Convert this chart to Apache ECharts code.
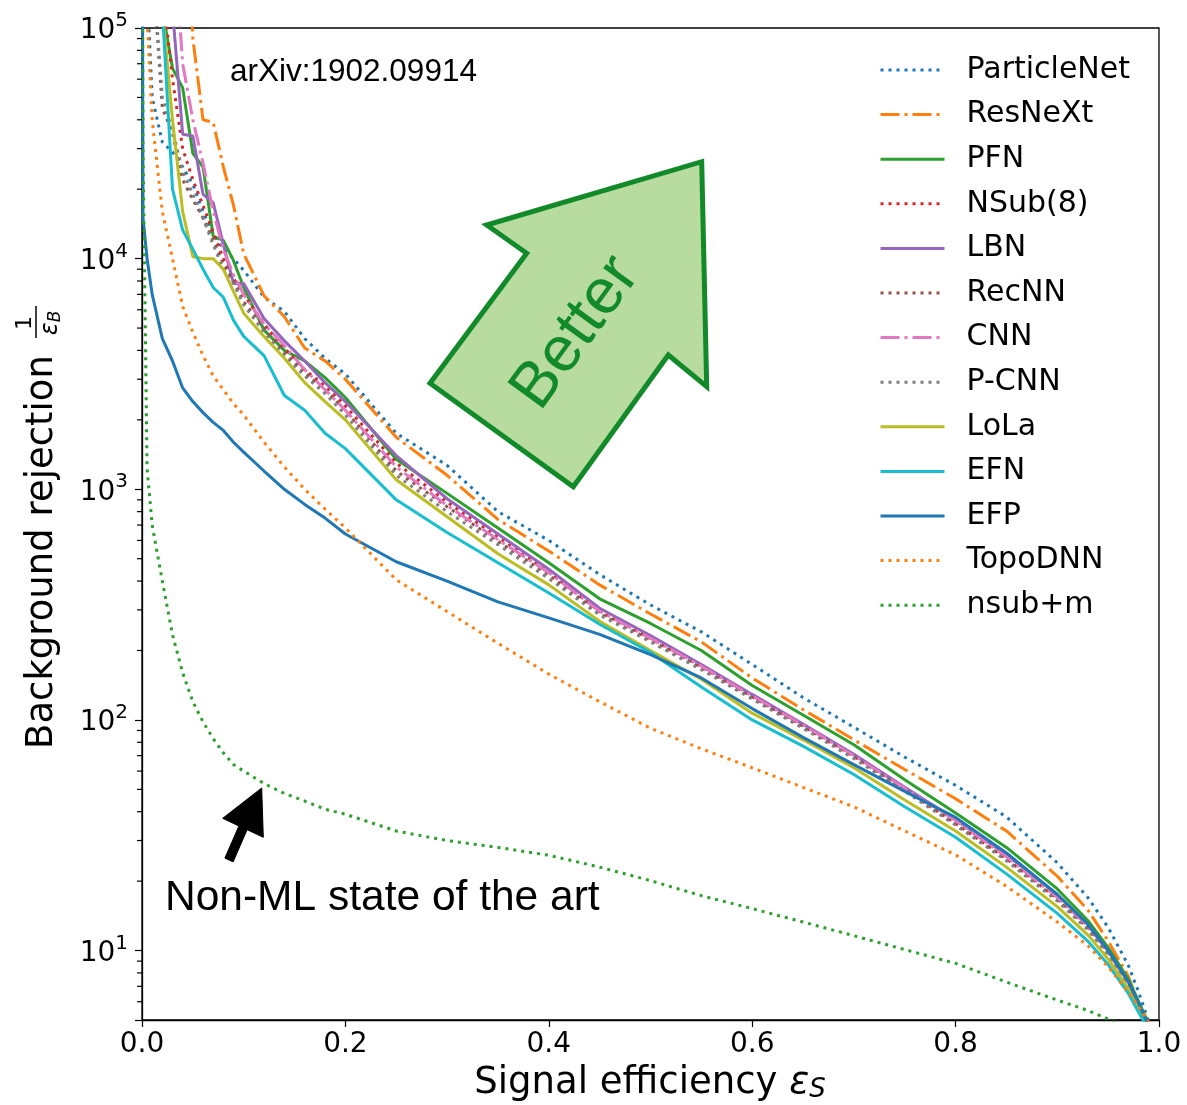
<!DOCTYPE html>
<html><head><meta charset="utf-8">
<script src="https://cdn.jsdelivr.net/npm/echarts@6/dist/echarts.min.js"></script>
<style>html,body{margin:0;padding:0;background:#fff}#c{width:1187px;height:1105px}</style>
</head><body><div id="c"></div>
<script>
// ---------- data ----------
const eps = [0, 0.001, 0.005, 0.01, 0.02, 0.03, 0.04, 0.05, 0.06, 0.07, 0.08, 0.09, 0.1,
  0.12, 0.14, 0.16, 0.18, 0.2, 0.25, 0.3, 0.35, 0.4, 0.45, 0.5, 0.55, 0.6, 0.65, 0.7,
  0.75, 0.8, 0.85, 0.9, 0.93, 0.95, 0.97, 0.98, 0.99];

const particleNet = [1e6, 1e6, 1.5e5, 5e4, 3.2e4, 2.9e4, 2.5e4, 2.1e4, 1.6e4, 1.28e4, 1.1e4, 1.0e4, 8.9e3,
  6.8e3, 5.9e3, 4.5e3, 3.7e3, 3.16e3, 1.75e3, 1.27e3, 800, 600, 427, 315, 241, 174, 125, 93,
  69, 52, 38, 24, 17, 12.6, 8.6, 6.6, 4.9];
const resNeXt = [1e6, 1e6, 1e6, 1e6, 1e6, 1e6, 1e6, 9e4, 4e4, 3.9e4, 2.5e4, 1.7e4, 1.05e4,
  6.9e3, 5.6e3, 4.1e3, 3.6e3, 3.0e3, 1.68e3, 1.15e3, 740, 540, 385, 288, 218, 152, 111, 82,
  61, 45.5, 33, 21, 15, 11, 7.7, 5.9, 4.8];
const pfn = [1e6, 1e6, 1e6, 1e6, 1.2e5, 6.7e4, 5.5e4, 2.86e4, 2.5e4, 1.25e4, 1.2e4, 9.8e3, 7.5e3,
  4.9e3, 4.0e3, 3.6e3, 3.05e3, 2.5e3, 1.35e3, 960, 680, 480, 335, 262, 200, 141, 105, 78,
  55, 39.5, 28, 18.5, 13.5, 10.3, 7.5, 6.0, 4.8];
const nsub8 = [1e6, 1e6, 1e6, 1e6, 1.5e5, 6e4, 3e4, 2.2e4, 1.7e4, 1.3e4, 1.0e4, 8.2e3, 7e3,
  5.2e3, 4.1e3, 3.3e3, 2.8e3, 2.3e3, 1.3e3, 880, 620, 440, 295, 225, 170, 126, 94, 69.5,
  50, 35.6, 25, 16.8, 12.6, 9.8, 7.2, 5.8, 4.7];
const lbn = [1e6, 1e6, 1e6, 1e6, 1e6, 1.2e5, 3.46e4, 3.4e4, 1.9e4, 1.75e4, 1.15e4, 7.8e3, 7.8e3,
  5.5e3, 4.4e3, 3.6e3, 2.9e3, 2.4e3, 1.4e3, 910, 640, 450, 305, 232, 174, 129, 96, 71,
  51, 37, 26, 17.5, 13, 10, 7.3, 5.9, 4.7];
const recNN = [1e6, 1e6, 1e6, 2e5, 4.5e4, 3.5e4, 2.2e4, 1.8e4, 1.5e4, 1.2e4, 9.5e3, 8e3, 6.5e3,
  5e3, 3.9e3, 3.2e3, 2.7e3, 2.2e3, 1.2e3, 840, 595, 425, 290, 222, 168, 125, 93, 69,
  49.5, 35.3, 24.8, 16.6, 12.5, 9.7, 7.1, 5.7, 4.7];
const cnn = [1e6, 1e6, 1e6, 1e6, 1e6, 3e5, 7e4, 4e4, 2.6e4, 1.6e4, 1.1e4, 8.5e3, 7e3,
  5.2e3, 4.2e3, 3.3e3, 2.7e3, 2.2e3, 1.25e3, 850, 605, 435, 296, 226, 171, 127, 95, 70,
  50.5, 36.6, 25.5, 17, 12.8, 9.9, 7.2, 5.8, 4.7];
const pcnn = [1e6, 1e6, 1e6, 2e5, 5e4, 3.6e4, 2.4e4, 1.9e4, 1.5e4, 1.15e4, 9e3, 7.8e3, 6.3e3,
  4.8e3, 3.8e3, 3.1e3, 2.6e3, 2.1e3, 1.15e3, 800, 575, 410, 285, 218, 165, 123, 92, 68,
  49, 35, 24.5, 16.4, 12.3, 9.6, 7, 5.7, 4.7];
const lola = [1e6, 1e6, 1e6, 1e6, 1.2e5, 4e4, 1.6e4, 1.02e4, 1.0e4, 1.0e4, 9e3, 7.2e3, 5.8e3,
  4.6e3, 3.7e3, 2.9e3, 2.4e3, 2.0e3, 1.1e3, 760, 525, 385, 268, 200, 150, 107, 82, 62,
  45, 33, 23, 15.5, 11.7, 9.2, 6.8, 5.6, 4.6];
const efn = [1e6, 1e6, 1e6, 1e6, 1.2e5, 2.0e4, 1.33e4, 1.1e4, 9e3, 7.5e3, 6.8e3, 5.4e3, 4.6e3,
  3.8e3, 2.55e3, 2.2e3, 1.75e3, 1.5e3, 900, 650, 480, 355, 260, 196, 139, 100, 77, 58,
  42, 31, 21.5, 14.5, 11, 8.7, 6.5, 5.4, 4.5];
const efp = [1e6, 1.5e4, 1.0e4, 7e3, 4.5e3, 3.6e3, 2.75e3, 2.4e3, 2.15e3, 1.95e3, 1.8e3, 1.6e3, 1.45e3,
  1.2e3, 1.0e3, 860, 750, 640, 485, 400, 325, 277, 235, 192, 152, 112, 84, 64,
  49, 37.8, 26.5, 17.5, 13, 10, 7.3, 5.9, 4.7];
const topoDNN = [1e6, 1e6, 1.1e5, 4e4, 1.6e4, 1e4, 6.2e3, 4.8e3, 3.8e3, 3.1e3, 2.7e3, 2.35e3, 2.1e3,
  1.6e3, 1.25e3, 1.0e3, 820, 680, 405, 295, 215, 158, 120, 92, 75, 62, 51, 42,
  33, 26, 19, 13.3, 10.5, 8.5, 6.6, 5.7, 4.9];
const nsubM = [1e6, 3e4, 1230, 700, 400, 234, 160, 120, 98, 83, 72, 64, 60,
  53, 48, 44.5, 41, 39, 33, 30, 28, 25.9, 23, 20.1, 17.3, 15.2, 13.3, 11.6,
  10.1, 8.8, 7.3, 6.1, 5.5, 5.05, 4.5, 4.2, 3.9];

const seriesNames = ['ParticleNet', 'ResNeXt', 'PFN', 'NSub(8)', 'LBN', 'RecNN', 'CNN', 'P-CNN',
  'LoLa', 'EFN', 'EFP', 'TopoDNN', 'nsub+m'];
const seriesValues = [particleNet, resNeXt, pfn, nsub8, lbn, recNN, cnn, pcnn, lola, efn, efp, topoDNN, nsubM];

const xTicks = [0, 0.2, 0.4, 0.6, 0.8, 1.0];
const minorTickValues = [6, 7, 8, 9, 20, 30, 40, 50, 60, 70, 80, 90, 200, 300, 400, 500, 600, 700, 800, 900,
  2000, 3000, 4000, 5000, 6000, 7000, 8000, 9000, 20000, 30000, 40000, 50000, 60000, 70000, 80000, 90000];

// ---------- styles ----------
const DOT = [3, 5];
const DASHDOT = [19, 5, 3, 5];
const styles = [
  {c: '#1f77b4', t: DOT}, {c: '#ff7f0e', t: DASHDOT}, {c: '#2ca02c', t: 'solid'},
  {c: '#d62728', t: DOT}, {c: '#9467bd', t: 'solid'}, {c: '#8c564b', t: DOT},
  {c: '#e377c2', t: DASHDOT}, {c: '#7f7f7f', t: DOT}, {c: '#bcbd22', t: 'solid'},
  {c: '#17becf', t: 'solid'}, {c: '#1f77b4', t: 'solid'}, {c: '#ff7f0e', t: DOT},
  {c: '#2ca02c', t: DOT}
];

const FONT = '"DejaVu Sans", sans-serif';
const chart = echarts.init(document.getElementById('c'), null, {renderer: 'canvas'});

const lineSeries = seriesNames.map((name, i) => ({
  name, type: 'line', symbol: 'none', showSymbol: false, smooth: false, clip: true,
  data: eps.map((x, k) => [x, seriesValues[i][k]]),
  lineStyle: {color: styles[i].c, width: 3, type: styles[i].t, cap: 'butt'},
  itemStyle: {color: styles[i].c},
  emphasis: {disabled: true}, z: 2 + i
}));

// minor log ticks drawn through the y axis scale (custom series, outside the plot)
const minorTickSeries = {
  type: 'custom', name: 'minorTicks', coordinateSystem: 'cartesian2d', xAxisIndex: 0, yAxisIndex: 0,
  silent: true, clip: false, z: 30, legendHoverLink: false,
  data: minorTickValues.map(v => [0, v]),
  encode: {x: 0, y: 1},
  renderItem: function (params, api) {
    const p = api.coord([api.value(0), api.value(1)]);
    return {type: 'rect', shape: {x: p[0] - 5, y: p[1] - 0.6, width: 5, height: 1.2},
      style: {fill: '#000'}};
  }
};

const graphics = [
  // Better arrow
  {type: 'polygon', z: 50,
    shape: {points: [[701.7, 161.7], [706.7, 386.7], [668.3, 355], [573.3, 486.7], [430, 383.3], [526.7, 253.3], [486.7, 225]]},
    style: {fill: '#b8dca0', stroke: '#138a2a', lineWidth: 5, lineJoin: 'miter'}},
  {type: 'text', z: 51, x: 576, y: 333, rotation: 54 * Math.PI / 180,
    style: {text: 'Better', fill: '#138a2a', font: '64px "Liberation Sans", Arial, sans-serif', align: 'center', verticalAlign: 'middle'}},
  // arXiv text
  {type: 'text', z: 50, x: 230, y: 72,
    style: {text: 'arXiv:1902.09914', fill: '#000', font: '31.5px "Liberation Sans", Arial, sans-serif', align: 'left', verticalAlign: 'middle'}},
  // Non-ML annotation
  {type: 'polygon', z: 50,
    shape: {points: [[261.7, 788], [263.3, 837.3], [247.1, 829.7], [233.1, 861.9], [224.9, 858.1], [238.9, 826], [222.7, 818.3]]},
    style: {fill: '#000', stroke: '#000', lineWidth: 1}},
  {type: 'text', z: 50, x: 165, y: 898,
    style: {text: 'Non-ML state of the art', fill: '#000', font: '42.5px "Liberation Sans", Arial, sans-serif', align: 'left', verticalAlign: 'middle'}},
  // x axis title
  {type: 'text', z: 50, x: 650, y: 1083,
    style: {text: '{t|Signal efficiency }{e|ε}{s|S}', align: 'center', verticalAlign: 'middle',
      rich: {t: {fontSize: 37, fontFamily: FONT, color: '#000'},
             e: {fontSize: 37, fontFamily: FONT, fontStyle: 'italic', color: '#000'},
             s: {fontSize: 26, fontFamily: FONT, fontStyle: 'italic', color: '#000', padding: [14, 0, 0, 0]}}}},
  // y axis title
  {type: 'group', x: 42, y: 749, rotation: Math.PI / 2, z: 50, children: [
    {type: 'text', style: {text: 'Background rejection', x: 0, y: 0, fill: '#000', font: '37px "DejaVu Sans", sans-serif', align: 'left', verticalAlign: 'middle'}},
    {type: 'text', style: {text: '1', x: 426, y: -17, fill: '#000', font: '22px "DejaVu Sans", sans-serif', align: 'center', verticalAlign: 'middle'}},
    {type: 'line', shape: {x1: 411, y1: -6, x2: 443, y2: -6}, style: {stroke: '#000', lineWidth: 1.5}},
    {type: 'text', style: {text: '{e|ε}{s|B}', x: 426, y: 9, align: 'center', verticalAlign: 'middle',
      rich: {e: {fontSize: 24, fontFamily: FONT, fontStyle: 'italic', color: '#000'},
             s: {fontSize: 17, fontFamily: FONT, fontStyle: 'italic', color: '#000', padding: [10, 0, 0, 0]}}}}
  ]}
];

const option = {
  animation: false,
  backgroundColor: '#fff',
  grid: {left: 142, right: 28, top: 28, bottom: 85, show: true, borderColor: '#000', borderWidth: 1.3, backgroundColor: 'transparent'},
  xAxis: {
    type: 'value', min: 0, max: 1, interval: 0.2,
    axisLine: {show: true, lineStyle: {color: '#000', width: 1.3}},
    axisTick: {show: true, inside: false, length: 7, lineStyle: {color: '#000', width: 1.2}},
    axisLabel: {color: '#000', fontSize: 28, fontFamily: FONT, margin: 11,
      formatter: v => xTicks.some(t => Math.abs(t - v) < 1e-9) ? v.toFixed(1) : ''},
    splitLine: {show: false}
  },
  yAxis: {
    type: 'log', logBase: 10, min: 5, max: 1e5,
    axisLine: {show: true, lineStyle: {color: '#000', width: 1.3}},
    axisTick: {show: true, inside: false, length: 7, lineStyle: {color: '#000', width: 1.2}},
    axisLabel: {
      color: '#000', margin: 14, fontFamily: FONT,
      formatter: v => {
        const e = Math.round(Math.log10(v));
        if (Math.abs(v - Math.pow(10, e)) > 1e-6 * v) return '';
        return '{b|10}{s|' + e + '}';
      },
      rich: {
        b: {fontSize: 28, fontFamily: FONT, color: '#000', lineHeight: 34, verticalAlign: 'bottom'},
        s: {fontSize: 20, fontFamily: FONT, color: '#000', lineHeight: 22, verticalAlign: 'top'}
      }
    },
    splitLine: {show: false}
  },
  legend: {
    orient: 'vertical', left: 879, top: 53, padding: 0, itemWidth: 64, itemHeight: 14,
    itemGap: 10.6, selectedMode: false,
    textStyle: {fontSize: 30, fontFamily: FONT, color: '#000', lineHeight: 34, padding: [0, 0, 0, 17]},
    data: seriesNames.map((n, i) => ({
      name: n,
      itemStyle: {color: 'rgba(0,0,0,0)', borderColor: 'rgba(0,0,0,0)', borderWidth: 0, opacity: 0},
      lineStyle: {color: styles[i].c, width: 3, type: styles[i].t, cap: 'butt', opacity: 1}
    }))
  },
  series: lineSeries.concat([minorTickSeries]),
  graphic: graphics
};
chart.setOption(option);
</script></body></html>
